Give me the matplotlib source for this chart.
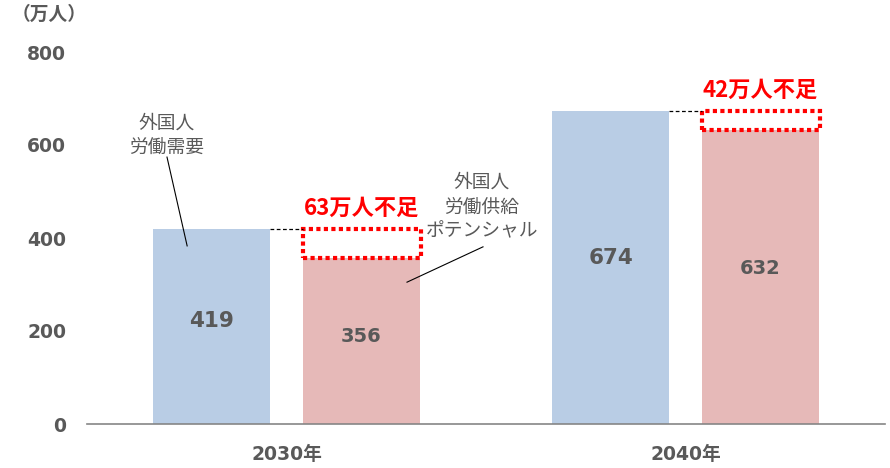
import numpy as np
import matplotlib
matplotlib.use("Agg")
import matplotlib.pyplot as plt
from matplotlib.patches import Rectangle

# data
years = ["2030年", "2040年"]
demand = [419, 674]      # 外国人労働需要
supply = [356, 632]      # 外国人労働供給ポテンシャル
shortage_labels = ["63万人不足", "42万人不足"]
yticks = [0, 200, 400, 600, 800]

JP = ["Noto Sans CJK JP", "DejaVu Sans"]
NUM = ["DejaVu Sans", "Noto Sans CJK JP"]
gray = "#595959"
blue = "#B9CDE5"
pink = "#E6B9B8"

fig = plt.figure(figsize=(8.9, 4.68), dpi=100)
ax = fig.add_axes([87/890, 1-424/468, 798/890, (424-52)/468])

x = np.arange(len(years))
w = 0.293
off = 0.187
ax.bar(x - off, demand, w, color=blue, zorder=2)
ax.bar(x + off, supply, w, color=pink, zorder=2)

for i in range(len(years)):
    ax.text(x[i] - off, demand[i] * 0.53, str(demand[i]), ha="center", va="center",
            fontsize=15.5, fontweight="bold", color=gray, family=NUM)
    ax.text(x[i] + off, supply[i] * 0.53, str(supply[i]),
            ha="center", va="center", fontsize=14, fontweight="bold", color=gray, family=NUM)
    # shortage box
    gap = demand[i] - supply[i]
    ax.add_patch(Rectangle((x[i] + off - w/2, supply[i]), w + 0.004, gap, fill=False,
                           edgecolor="#FF0000", lw=3, ls=(0, (1, 0.8)), zorder=3))
    # dashed connector
    ax.plot([x[i] - off + w/2, x[i] + off - w/2], [demand[i], demand[i]],
            color="black", lw=0.9, ls=(0, (3, 2)), zorder=3)
    ax.text(x[i] + off, demand[i] + 44, shortage_labels[i], ha="center", va="center",
            fontsize=16, fontweight="bold", color="#FF0000", family=JP)

# callouts
ax.text(-0.2995, 621, "外国人\n労働需要", ha="center", va="center", fontsize=13.5,
        color=gray, family=JP, linespacing=1.2)
ax.plot([-0.2995, -0.249], [574, 383], color="black", lw=0.8, zorder=3)
ax.text(0.490, 467, "外国人\n労働供給\nポテンシャル", ha="center", va="center", fontsize=13.5,
        color=gray, family=JP, linespacing=1.2)
ax.plot([0.4925, 0.302], [381, 305], color="black", lw=0.8, zorder=3)

ax.set_xlim(-0.5, 1.5)
ax.set_ylim(0, 800)
ax.set_yticks(yticks)
ax.set_yticklabels([str(v) for v in yticks], fontsize=13.5, fontweight="bold", color=gray, family=NUM)
ax.set_xticks(x)
ax.set_xticklabels(years, fontsize=13.5, fontweight="bold", color=gray, family=NUM)
ax.tick_params(axis="both", length=0)
ax.tick_params(axis="y", pad=15)
ax.tick_params(axis="x", pad=15)
for s in ["top", "right", "left"]:
    ax.spines[s].set_visible(False)
ax.spines["bottom"].set_color("#868686")
ax.spines["bottom"].set_linewidth(1.2)

fig.text(12/890, 1-14/468, "（万人）", ha="left", va="center", fontsize=13.5,
         fontweight="bold", color=gray, family=JP)

fig.savefig("out.png", dpi=100)
